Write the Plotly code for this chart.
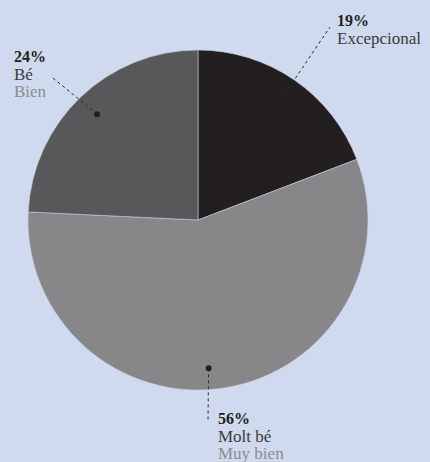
import math
import plotly.graph_objects as go

# ---- data ----
values = [19, 56, 24]
pct_labels = ["19%", "56%", "24%"]
cat_ca = ["Excepcional", "Molt bé", "Bé"]
cat_es = ["", "Muy bien", "Bien"]
colors = ["#231f20", "#87878a", "#58585b"]

W, H = 430, 462
BG = "#cfdaee"
CX, CY, R = 198, 220, 170  # pie centre & radius in px

fig = go.Figure(go.Pie(
    values=values,
    sort=False,
    direction="clockwise",
    rotation=0,
    textinfo="none",
    hoverinfo="skip",
    marker=dict(colors=colors, line=dict(color="#c9cfdc", width=0.6)),
    domain=dict(x=[(CX - R) / W, (CX + R) / W], y=[1 - (CY + R) / H, 1 - (CY - R) / H]),
    showlegend=False,
))

def px(x, y):
    return x / W, 1 - y / H

tot = sum(values)
cum = 0
mids = []
for v in values:
    mids.append((cum + v / 2) / tot * 360)
    cum += v

styles = [
    dict(dang=0, rf=0.87, end=(330, 27), txt=(336, 11)),
    dict(dang=5, rf=0.875, end=(208, 420), txt=(217, 409)),
    dict(dang=0, rf=0.86, end=(53, 78), txt=(13, 47)),
]

shapes = []
annotations = []
for i, st in enumerate(styles):
    a = math.radians(mids[i] + st["dang"])
    dx = CX + st["rf"] * R * math.sin(a)
    dy = CY - st["rf"] * R * math.cos(a)
    x0, y0 = px(dx, dy)
    x1, y1 = px(*st["end"])
    shapes.append(dict(type="line", xref="paper", yref="paper", x0=x0, y0=y0, x1=x1, y1=y1,
                       line=dict(color="#2a2a2a", width=1, dash="dot")))
    r = 3
    shapes.append(dict(type="circle", xref="paper", yref="paper",
                       x0=(dx - r) / W, x1=(dx + r) / W, y0=1 - (dy + r) / H, y1=1 - (dy - r) / H,
                       fillcolor="#231f20", line=dict(width=0)))
    parts = ["<span style='font-size:16px;color:#231f20'><b>%s</b></span>" % pct_labels[i],
             "<span style='font-size:17px;color:#3a3a3a'>%s</span>" % cat_ca[i]]
    if cat_es[i]:
        parts.append("<span style='font-size:17px;color:#8c8c8e'>%s</span>" % cat_es[i])
    tx, ty = st["txt"]
    xx, yy = px(tx, ty)
    annotations.append(dict(x=xx, y=yy, xref="paper", yref="paper", text="<br>".join(parts),
                            showarrow=False, xanchor="left", yanchor="top", align="left",
                            borderpad=0,
                            font=dict(family="Liberation Serif", size=13.5, color="#231f20")))

fig.update_layout(
    width=W, height=H,
    margin=dict(l=0, r=0, t=0, b=0),
    paper_bgcolor=BG, plot_bgcolor=BG,
    shapes=shapes, annotations=annotations,
)
fig.write_html("out.html", config={"displayModeBar": False},
               post_script="document.body.style.margin='0';document.body.style.background='%s';" % BG)
